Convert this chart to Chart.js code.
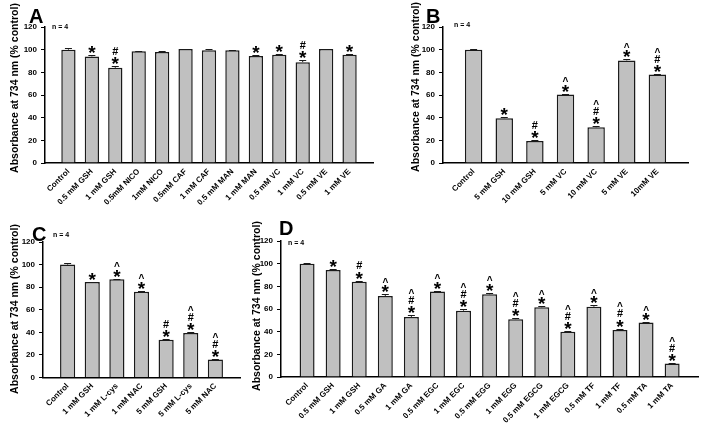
<!DOCTYPE html>
<html>
<head>
<meta charset="utf-8">
<script src="https://cdn.jsdelivr.net/npm/chart.js@4.4.0/dist/chart.umd.min.js"></script>
<style>
  body { margin: 0; background: #fff; }
  #wrap { position: relative; width: 709px; height: 426px; }
  #wrap canvas { position: absolute; left: 0; top: 0; }
</style>
</head>
<body>
<div id="wrap">
  <canvas id="chartA" width="709" height="426"></canvas>
  <canvas id="chartB" width="709" height="426"></canvas>
  <canvas id="chartC" width="709" height="426"></canvas>
  <canvas id="chartD" width="709" height="426"></canvas>
</div>
<script>
// datos de los cuatro paneles (A, B, C, D)
const labelsA = ['Control', '0.5 mM GSH', '1 mM GSH', '0.5mM NICO', '1mM NICO', '0.5mM CAF', '1 mM CAF', '0.5 mM MAN', '1 mM MAN', '0.5 mM VC', '1 mM VC', '0.5 mM VE', '1 mM VE'];
const valuesA = [100, 94, 84, 98.5, 98, 100.5, 99.5, 99.5, 94.5, 95.5, 89, 100.5, 95.5];
const errorsA = [1.2, 1.5, 1.5, 0.5, 1, 0.5, 1.5, 0.5, 0.8, 0.8, 1.5, 0.3, 0.5];
const marksA = ['', '*', '*#', '', '', '', '', '', '*', '*', '*#', '', '*'];

const labelsB = ['Control', '5 mM GSH', '10 mM GSH', '5 mM VC', '10 mM VC', '5 mM VE', '10mM VE'];
const valuesB = [100, 39.5, 19.5, 60.5, 31.5, 90.5, 78];
const errorsB = [0.3, 1, 0.5, 0.5, 1, 1, 0.5];
const marksB = ['', '*', '*#', '*^', '*#^', '*^', '*#^'];

const labelsC = ['Control', '1 mM GSH', '1 mM L-cys', '1 mM NAC', '5 mM GSH', '5 mM L-cys', '5 mM NAC'];
const valuesC = [100, 84.5, 87, 76, 33.5, 39.5, 16];
const errorsC = [1.5, 0.5, 0.5, 0.8, 0.3, 0.5, 0.3];
const marksC = ['', '*', '*^', '*^', '*#', '*#^', '*#^'];

const labelsD = ['Control', '0.5 mM GSH', '1 mM GSH', '0.5 mM GA', '1 mM GA', '0.5 mM EGC', '1 mM EGC', '0.5 mM EGG', '1 mM EGG', '0.5 mM EGCG', '1 mM EGCG', '0.5 mM TF', '1 mM TF', '0.5 mM TA', '1 mM TA'];
const valuesD = [100, 94.5, 84, 71.5, 53, 75.5, 58.5, 73, 51, 61.5, 40, 62, 41.5, 48, 12];
const errorsD = [1, 0.5, 1, 1.5, 1.5, 0.5, 1.5, 1.5, 0.8, 1, 0.5, 1.5, 1, 0.5, 0.3];
const marksD = ['', '*', '*#', '*^', '*#^', '*^', '*#^', '*^', '*#^', '*^', '*#^', '*^', '*#^', '*^', '*#^'];

const yTicks = [0, 20, 40, 60, 80, 100, 120];
const yTitle = 'Absorbance at 734 nm (% control)';

const FONT = "'Liberation Sans', Arial, sans-serif";
Chart.defaults.font.family = FONT;
Chart.defaults.color = '#000';

// tamaño y separación de los símbolos de significancia
const glyphs = {
    '*': { font: 'bold 19px ' + FONT, step: 0 },
    '#': { font: 'bold 11px ' + FONT, step: 10 },
    '^': { font: 'bold 10px ' + FONT, step: 8.5 }
};

function drawCentered(ctx, text, x, cy) {
    const m = ctx.measureText(text);
    const h = m.actualBoundingBoxAscent - m.actualBoundingBoxDescent;
    ctx.fillText(text, x, cy + h / 2);
}

const panelDecor = {
    id: 'panelDecor',
    afterDatasetsDraw(chart, args, o) {
        const ctx = chart.ctx;
        const y = chart.scales.y;
        const bars = chart.getDatasetMeta(0).data;
        ctx.save();

        // barras de error (solo hacia arriba)
        ctx.strokeStyle = '#1a1a1a';
        ctx.lineWidth = 1;
        o.errors.forEach((e, i) => {
            const bar = bars[i + 1];
            const yt = Math.round(y.getPixelForValue(o.values[i] + e)) + 0.5;
            ctx.beginPath();
            ctx.moveTo(bar.x, bar.y);
            ctx.lineTo(bar.x, yt);
            ctx.moveTo(bar.x - 3.5, yt);
            ctx.lineTo(bar.x + 3.5, yt);
            ctx.stroke();
        });

        // símbolos *, #, ^
        ctx.fillStyle = '#000';
        ctx.textAlign = 'center';
        ctx.textBaseline = 'alphabetic';
        o.marks.forEach((m, i) => {
            const bar = bars[i + 1];
            let cy = y.getPixelForValue(o.values[i] + o.errors[i]) - 5.5;
            for (const ch of m) {
                cy -= glyphs[ch].step;
                ctx.font = glyphs[ch].font;
                drawCentered(ctx, ch, bar.x, cy);
            }
        });

        // letra del panel, "n = 4" y título del eje y
        ctx.textAlign = 'left';
        ctx.font = 'bold 20px ' + FONT;
        ctx.fillText(o.letter, o.letterX, o.letterY);
        ctx.font = 'bold 7px ' + FONT;
        ctx.textBaseline = 'middle';
        ctx.fillText('n = 4', o.nX, o.nY);

        ctx.translate(o.titleX, o.titleY);
        ctx.rotate(-Math.PI / 2);
        ctx.textAlign = 'center';
        ctx.font = 'bold 10.5px ' + FONT;
        ctx.fillText(yTitle, 0, 0);
        ctx.restore();
    }
};

function makePanel(id, labels, values, errors, marks, p) {
    const padLabels = [''].concat(labels, ['']);
    const padValues = [null].concat(values, [null]);
    const a = p.area;
    return new Chart(document.getElementById(id), {
        type: 'bar',
        data: {
            labels: padLabels,
            datasets: [{
                data: padValues,
                backgroundColor: '#c0c0c0',
                borderColor: '#1a1a1a',
                borderWidth: 1.5,
                borderSkipped: 'bottom',
                barPercentage: p.barPct,
                categoryPercentage: 1
            }]
        },
        options: {
            responsive: false,
            animation: false,
            layout: { padding: { left: 0, bottom: 0, top: a.top, right: a.right } },
            plugins: {
                legend: { display: false },
                tooltip: { enabled: false },
                panelDecor: {
                    values: values, errors: errors, marks: marks,
                    letter: p.letter, letterX: p.letterX, letterY: p.letterY,
                    nX: p.nX, nY: p.nY, titleX: p.titleX, titleY: p.titleY
                }
            },
            scales: {
                x: {
                    offset: false,
                    grid: { display: false, drawTicks: false },
                    border: { display: true, color: '#000', width: 1.5 },
                    ticks: {
                        autoSkip: false, minRotation: 45, maxRotation: 45, padding: 4,
                        color: '#000', font: { size: 8, weight: 'bold' }
                    },
                    afterFit: s => { s.height = a.bottom; }
                },
                y: {
                    min: yTicks[0],
                    max: yTicks[yTicks.length - 1],
                    grid: { display: true, drawOnChartArea: false, tickLength: 4, color: '#000', lineWidth: 1 },
                    border: { display: true, color: '#000', width: 1.5 },
                    ticks: {
                        stepSize: yTicks[1] - yTicks[0], padding: 4,
                        color: '#000', font: { size: 8, weight: 'bold' }
                    },
                    afterFit: s => { s.width = a.left; }
                }
            }
        },
        plugins: [panelDecor]
    });
}

makePanel('chartA', labelsA, valuesA, errorsA, marksA, {
    area: { left: 45, top: 27, right: 336, bottom: 263 }, barPct: 0.61,
    letter: 'A', letterX: 29, letterY: 23, nX: 52, nY: 27, titleX: 15, titleY: 88
});
makePanel('chartB', labelsB, valuesB, errorsB, marksB, {
    area: { left: 443, top: 27, right: 21, bottom: 263 }, barPct: 0.57,
    letter: 'B', letterX: 426, letterY: 23, nX: 454, nY: 25, titleX: 416, titleY: 87
});
makePanel('chartC', labelsC, valuesC, errorsC, marksC, {
    area: { left: 43, top: 242, right: 469, bottom: 48.5 }, barPct: 0.615,
    letter: 'C', letterX: 32, letterY: 241, nX: 53, nY: 235, titleX: 15, titleY: 309
});
makePanel('chartD', labelsD, valuesD, errorsD, marksD, {
    area: { left: 281, top: 241, right: 9, bottom: 49 }, barPct: 0.575,
    letter: 'D', letterX: 279, letterY: 235, nX: 288, nY: 243, titleX: 257, titleY: 306
});
</script>
</body>
</html>
